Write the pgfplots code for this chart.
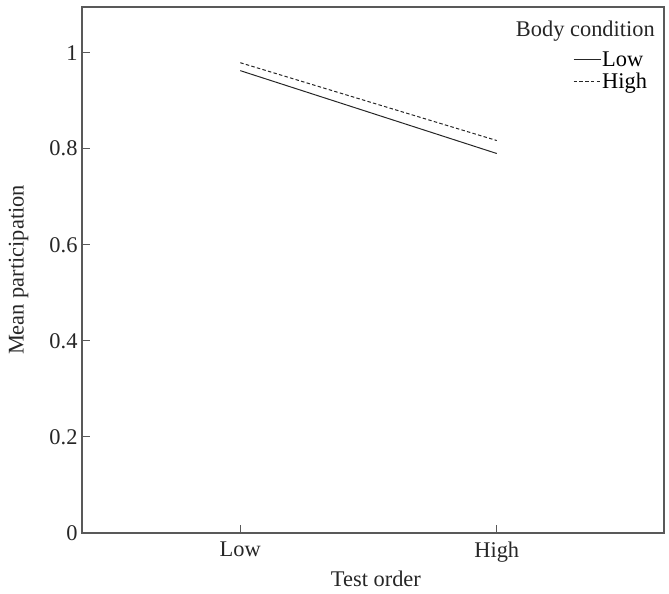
\documentclass[border=0pt]{standalone}
\usepackage{fontspec}
\setmainfont{Liberation Serif}
\usepackage{pgfplots}
\pgfplotsset{compat=1.18}
\newcommand{\chartfont}{\fontsize{22.5}{26}\selectfont}
\begin{document}
\begin{tikzpicture}
\begin{axis}[
    name=ax,
    scale only axis,
    width=582bp, height=526bp,
    xmin=0.383, xmax=2.652,
    ymin=0, ymax=1.095,
    xtick={1,2}, xticklabels={Low,High},
    ytick={0,0.2,0.4,0.6,0.8,1},
    yticklabels={0,0.2,0.4,0.6,0.8,1},
    xtick pos=bottom, ytick pos=left,
    tick align=inside,
    major tick length=8bp,
    axis line style={black!65, line width=1.1pt},
    every tick/.style={black!65, line width=1.1pt},
    xtick style={draw=black!65},
    ytick style={draw=black!65},
    xlabel={Test order},
    ylabel={Mean participation},
    xlabel style={at={(axis description cs:0.505,-0.087)}, anchor=center},
    ylabel style={at={(axis description cs:-0.109,0.5)}, anchor=center},
    xticklabel style={yshift=-5bp},
    yticklabel style={xshift=-1bp},
    ticklabel style={font=\chartfont, black!85},
    label style={font=\chartfont, black!85},
    /pgf/number format/assume math mode=true,
    legend style={draw=none, fill=none, at={(rel axis cs:0.8436,0.918)}, anchor=north west,
        font=\chartfont, row sep=3pt, inner sep=0pt,
        nodes={inner sep=1pt}},
    legend cell align=left,
    legend image code/.code={\draw[#1] (0cm,0cm) -- (27bp,0cm);},
    clip=false,
]
\addplot[black!85, line width=1pt] coordinates {(1,0.9625) (2,0.790)};
\addlegendentry{Low}
\addplot[black!85, line width=1pt, dash pattern=on 3.5pt off 2.3pt] coordinates {(1,0.979) (2,0.817)};
\addlegendentry{High}
\node[anchor=north east, inner sep=0pt, font=\chartfont, black!85] at (rel axis cs:0.9845,0.973) {Body condition};
\end{axis}
\pgfresetboundingbox
\path[use as bounding box] ([xshift=-82bp,yshift=-61bp]ax.south west) rectangle ([xshift=5bp,yshift=7bp]ax.north east);
\end{tikzpicture}
\end{document}
